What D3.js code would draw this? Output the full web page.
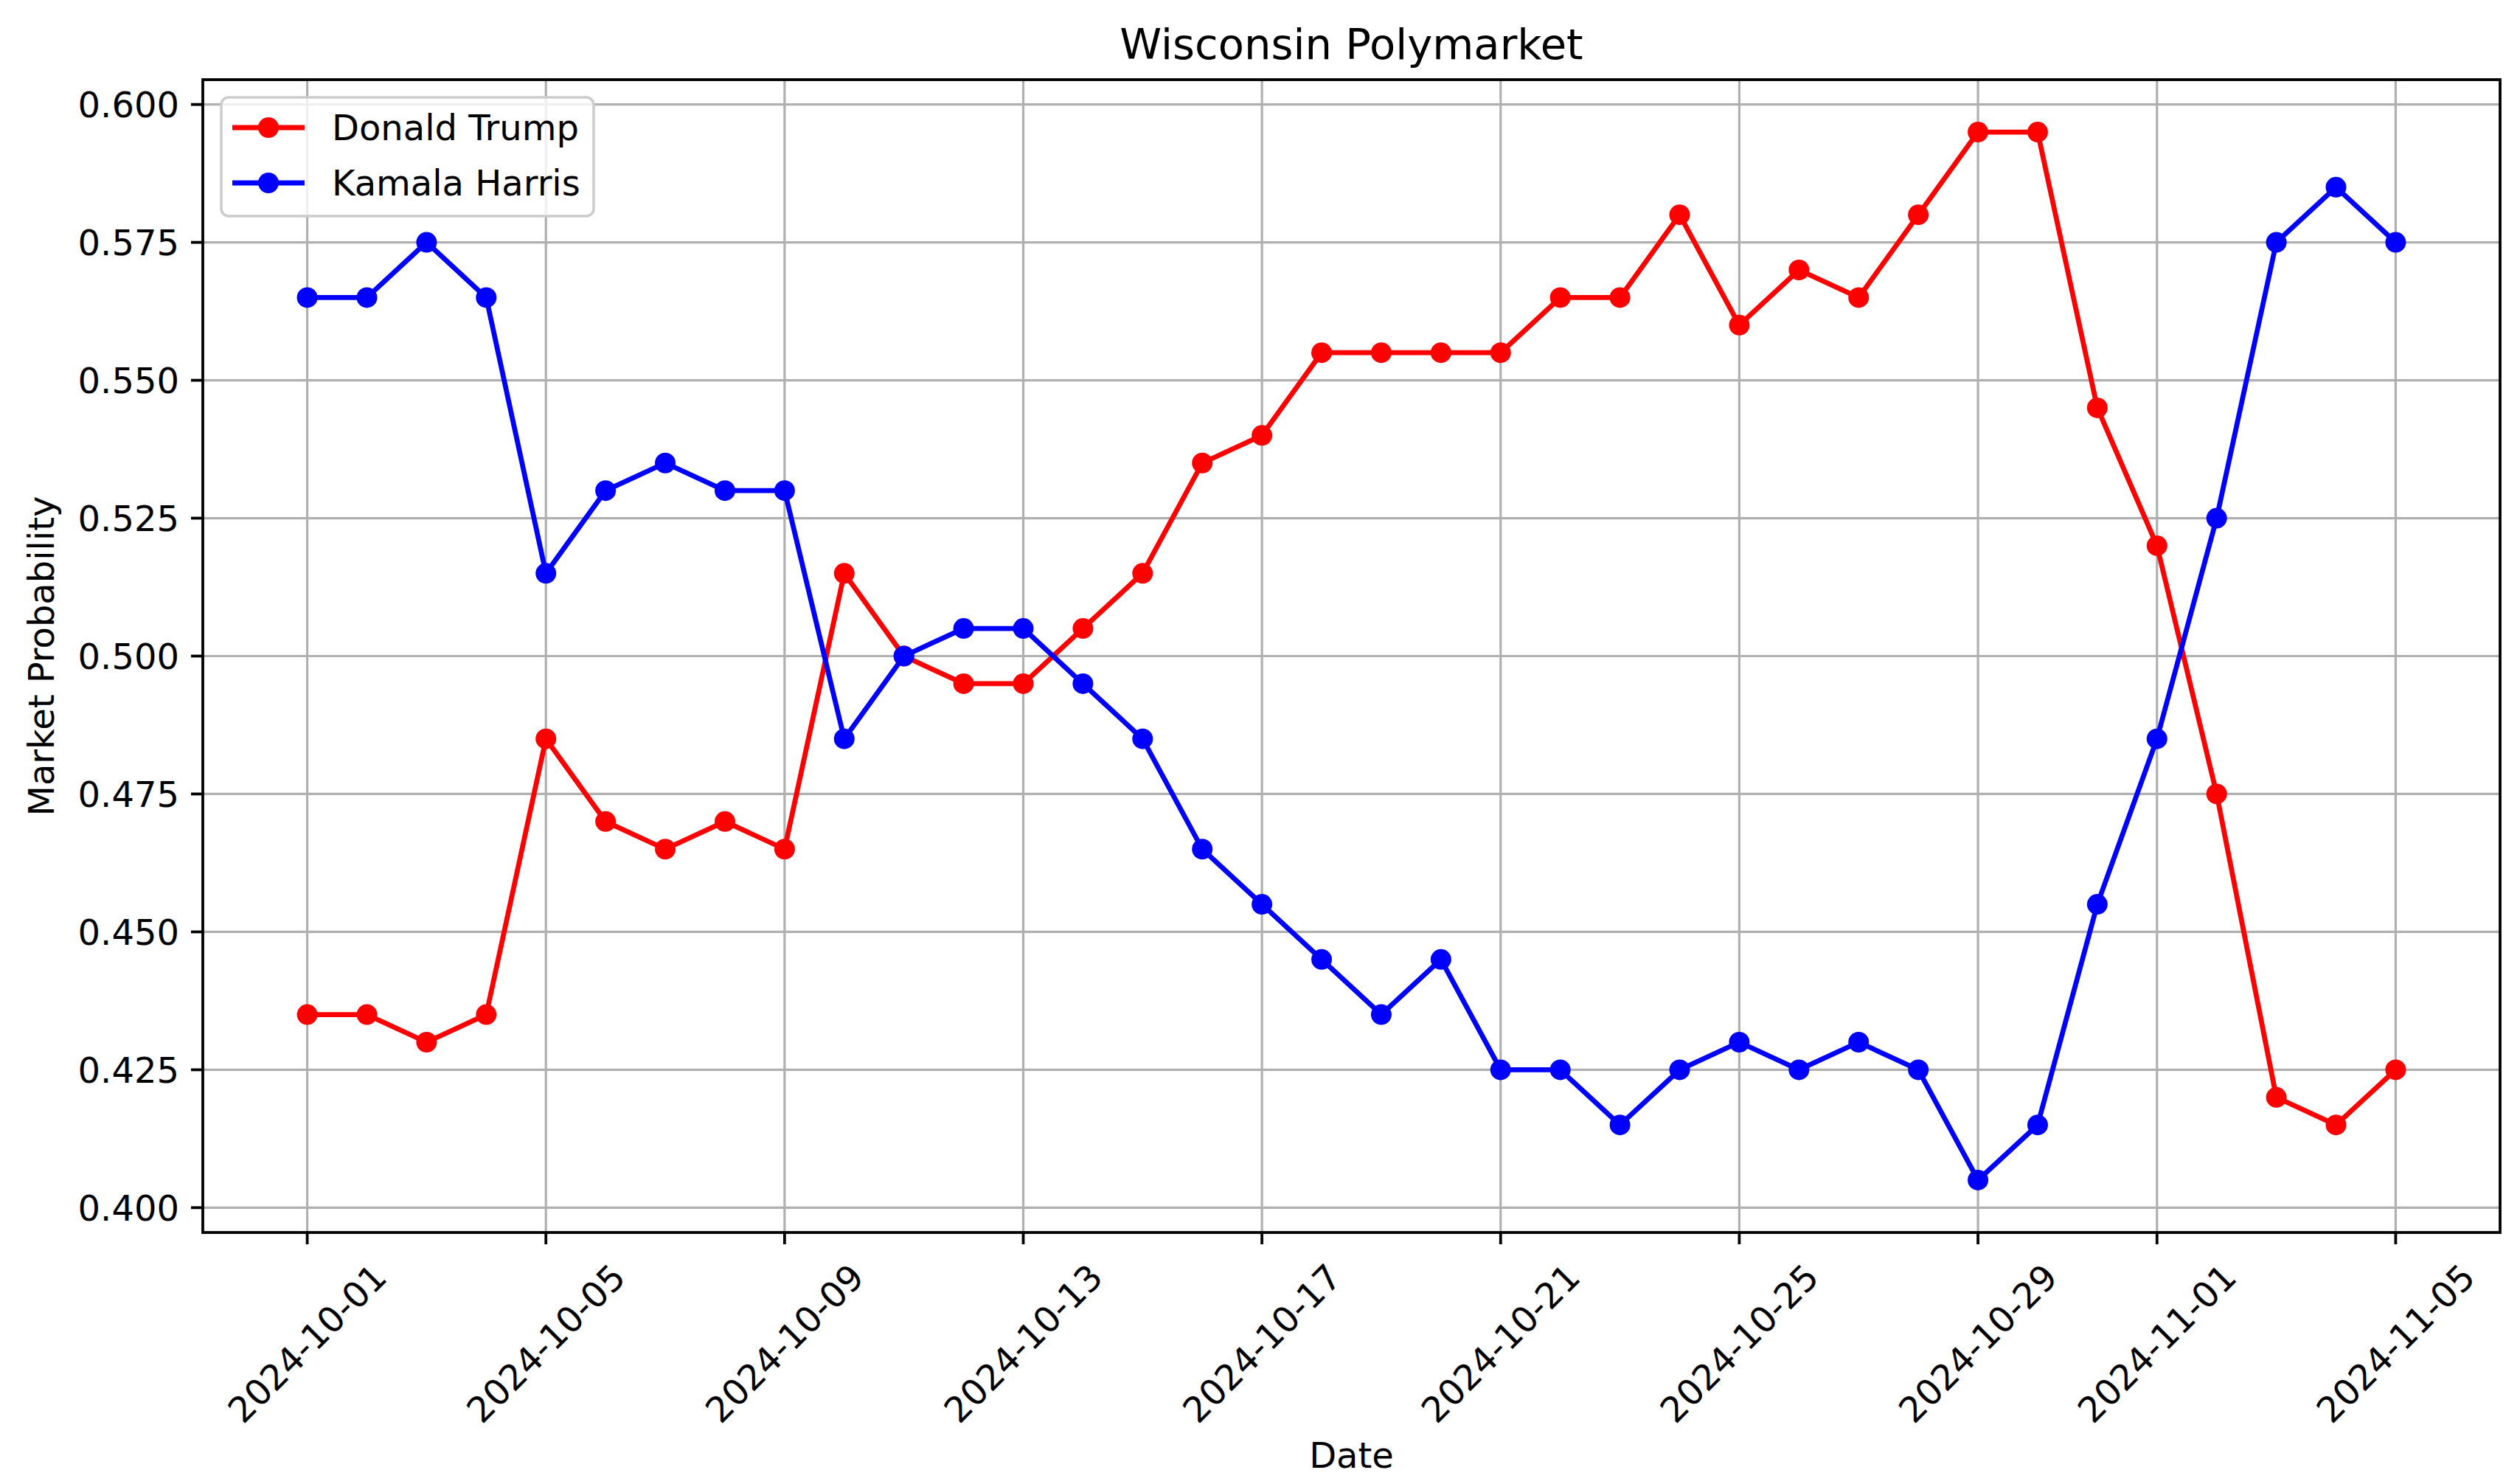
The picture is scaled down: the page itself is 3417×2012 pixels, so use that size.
<!DOCTYPE html>
<html>
<head>
<meta charset="utf-8">
<script src="https://cdn.jsdelivr.net/npm/d3@7"></script>
<style>
  html, body { margin: 0; padding: 0; background: #fff; }
  svg text { font-family: "DejaVu Sans", sans-serif; fill: #000; }
</style>
</head>
<body>
<div id="container"></div>
<script>
// ---- data ----
const dates = [
  "2024-10-01","2024-10-02","2024-10-03","2024-10-04","2024-10-05","2024-10-06",
  "2024-10-07","2024-10-08","2024-10-09","2024-10-10","2024-10-11","2024-10-12",
  "2024-10-13","2024-10-14","2024-10-15","2024-10-16","2024-10-17","2024-10-18",
  "2024-10-19","2024-10-20","2024-10-21","2024-10-22","2024-10-23","2024-10-24",
  "2024-10-25","2024-10-26","2024-10-27","2024-10-28","2024-10-29","2024-10-30",
  "2024-10-31","2024-11-01","2024-11-02","2024-11-03","2024-11-04","2024-11-05"
];
const trump = [
  0.435, 0.435, 0.430, 0.435, 0.485, 0.470,
  0.465, 0.470, 0.465, 0.515, 0.500, 0.495,
  0.495, 0.505, 0.515, 0.535, 0.540, 0.555,
  0.555, 0.555, 0.555, 0.565, 0.565, 0.580,
  0.560, 0.570, 0.565, 0.580, 0.595, 0.595,
  0.545, 0.520, 0.475, 0.420, 0.415, 0.425
];
const harris = [
  0.565, 0.565, 0.575, 0.565, 0.515, 0.530,
  0.535, 0.530, 0.530, 0.485, 0.500, 0.505,
  0.505, 0.495, 0.485, 0.465, 0.455, 0.445,
  0.435, 0.445, 0.425, 0.425, 0.415, 0.425,
  0.430, 0.425, 0.430, 0.425, 0.405, 0.415,
  0.455, 0.485, 0.525, 0.575, 0.585, 0.575
];
const xTickLabels = [
  "2024-10-01","2024-10-05","2024-10-09","2024-10-13","2024-10-17",
  "2024-10-21","2024-10-25","2024-10-29","2024-11-01","2024-11-05"
];
const yTickLabels = ["0.400","0.425","0.450","0.475","0.500","0.525","0.550","0.575","0.600"];
const seriesNames = ["Donald Trump", "Kamala Harris"];
const seriesColors = ["#ff0000", "#0000ff"];

// ---- layout ----
const width = 3417, height = 2012;
const margin = {left: 275, right: 3390, top: 108, bottom: 1671};
const fs = 48;          // 10pt
const lineW = 6.8;
const markerR = 14;
const gridColor = "#b0b0b0";

const parse = d3.utcParse("%Y-%m-%d");
const xDates = dates.map(parse);
const series = [trump, harris];

// matplotlib-like 5% margins
const xExt = d3.extent(xDates);
const xPad = (xExt[1] - xExt[0]) * 0.05;
const allVals = trump.concat(harris);
const yExt = d3.extent(allVals);
const yPad = (yExt[1] - yExt[0]) * 0.05;

const x = d3.scaleUtc()
  .domain([new Date(+xExt[0] - xPad), new Date(+xExt[1] + xPad)])
  .range([margin.left, margin.right]);
const y = d3.scaleLinear()
  .domain([yExt[0] - yPad, yExt[1] + yPad])
  .range([margin.bottom, margin.top]);

const svg = d3.create("svg")
  .attr("width", width)
  .attr("height", height)
  .attr("viewBox", [0, 0, width, height]);

svg.append("rect").attr("width", width).attr("height", height).attr("fill", "#fff");

const xTicks = xTickLabels.map(parse);
const yTicks = yTickLabels.map(Number);

// grid
const grid = svg.append("g");
grid.selectAll("line.gx").data(xTicks).join("line")
  .attr("x1", d => x(d)).attr("x2", d => x(d))
  .attr("y1", margin.top).attr("y2", margin.bottom)
  .attr("stroke", gridColor).attr("stroke-width", 3.2);
grid.selectAll("line.gy").data(yTicks).join("line")
  .attr("x1", margin.left).attr("x2", margin.right)
  .attr("y1", d => y(d)).attr("y2", d => y(d))
  .attr("stroke", gridColor).attr("stroke-width", 3.2);

// series
const line = d3.line().x((d, i) => x(xDates[i])).y(d => y(d));
series.forEach((s, k) => {
  const g = svg.append("g");
  g.append("path")
    .datum(s)
    .attr("fill", "none")
    .attr("stroke", seriesColors[k])
    .attr("stroke-width", lineW)
    .attr("stroke-linejoin", "round")
    .attr("d", line);
  g.selectAll("circle").data(s).join("circle")
    .attr("cx", (d, i) => x(xDates[i]))
    .attr("cy", d => y(d))
    .attr("r", markerR)
    .attr("fill", seriesColors[k]);
});

// spines
svg.append("rect")
  .attr("x", margin.left).attr("y", margin.top)
  .attr("width", margin.right - margin.left)
  .attr("height", margin.bottom - margin.top)
  .attr("fill", "none").attr("stroke", "#000").attr("stroke-width", 3.8);

// x ticks
const tickLen = 16, tickPad = 16;
const xAx = svg.append("g");
xAx.selectAll("line").data(xTicks).join("line")
  .attr("x1", d => x(d)).attr("x2", d => x(d))
  .attr("y1", margin.bottom).attr("y2", margin.bottom + tickLen)
  .attr("stroke", "#000").attr("stroke-width", 3.8);
// rotated labels centred under tick (matplotlib rotation=45, ha=center)
const labW = 279, labH = 56;
const half = (labW + labH) * Math.SQRT1_2 / 2;
xAx.selectAll("text").data(xTickLabels).join("text")
  .attr("transform", (d, i) => `translate(${x(xTicks[i])},${margin.bottom + tickLen + tickPad + half}) rotate(-45)`)
  .attr("text-anchor", "middle")
  .attr("dy", "0.35em")
  .attr("font-size", fs)
  .text(d => d);

// y ticks
const yAx = svg.append("g");
yAx.selectAll("line").data(yTicks).join("line")
  .attr("x1", margin.left - tickLen).attr("x2", margin.left)
  .attr("y1", d => y(d)).attr("y2", d => y(d))
  .attr("stroke", "#000").attr("stroke-width", 3.8);
yAx.selectAll("text").data(yTickLabels).join("text")
  .attr("x", margin.left - tickLen - tickPad)
  .attr("y", (d, i) => y(yTicks[i]))
  .attr("dy", "0.36em")
  .attr("text-anchor", "end")
  .attr("font-size", fs)
  .text(d => d);

// axis labels + title
svg.append("text")
  .attr("x", (margin.left + margin.right) / 2).attr("y", 1990)
  .attr("text-anchor", "middle").attr("font-size", fs)
  .text("Date");
svg.append("text")
  .attr("transform", `translate(56,${(margin.top + margin.bottom) / 2}) rotate(-90)`)
  .attr("text-anchor", "middle").attr("dy", "0.35em").attr("font-size", fs)
  .text("Market Probability");
svg.append("text")
  .attr("x", (margin.left + margin.right) / 2).attr("y", 80)
  .attr("text-anchor", "middle").attr("font-size", 57.6)
  .text("Wisconsin Polymarket");

// legend
const lg = svg.append("g").attr("transform", `translate(${margin.left + 25},${margin.top + 24})`);
lg.append("rect")
  .attr("width", 505).attr("height", 161)
  .attr("rx", 10).attr("ry", 10)
  .attr("fill", "rgba(255,255,255,0.8)")
  .attr("stroke", "#cccccc").attr("stroke-width", 3.5);
seriesNames.forEach((name, k) => {
  const cy = 41 + k * 75;
  lg.append("line")
    .attr("x1", 15).attr("x2", 113).attr("y1", cy).attr("y2", cy)
    .attr("stroke", seriesColors[k]).attr("stroke-width", lineW);
  lg.append("circle").attr("cx", 64).attr("cy", cy).attr("r", markerR).attr("fill", seriesColors[k]);
  lg.append("text")
    .attr("x", 150).attr("y", cy).attr("dy", "0.36em")
    .attr("font-size", fs)
    .text(name);
});

document.getElementById("container").append(svg.node());
</script>
</body>
</html>
